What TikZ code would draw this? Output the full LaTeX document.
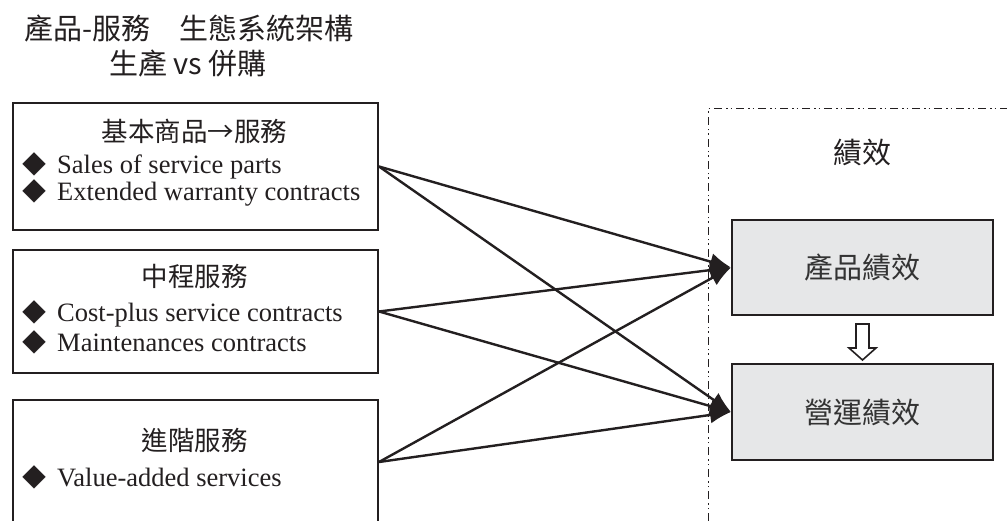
\documentclass[tikz,border=0pt]{standalone}
\usepackage{fontspec}
\setmainfont{Liberation Serif}
\newfontfamily\cjk{Noto Sans CJK TC}
\usetikzlibrary{arrows.meta,calc}
\definecolor{ink}{HTML}{231F20}
\definecolor{boxgray}{HTML}{E6E7E8}
\definecolor{txtgray}{HTML}{333333}
\begin{document}
\begin{tikzpicture}[x=1pt,y=-1pt,
  leftbox/.style={draw=ink,line width=2pt,minimum width=365pt,inner sep=0pt,anchor=north west},
  boxtitle/.style={font=\cjk\fontsize{26.5}{30}\selectfont,text=ink,anchor=base,inner sep=0pt},
  bullet/.style={font=\fontsize{26.5}{30}\selectfont,text=ink,anchor=base west,inner sep=0pt},
  bigtitle/.style={font=\cjk\fontsize{29}{33}\selectfont,text=ink,anchor=base,inner sep=0pt},
  graybox/.style={draw=ink,line width=2pt,fill=boxgray,minimum width=261pt,inner sep=0pt,
    font=\cjk\fontsize{29}{33}\selectfont,text=txtgray},
  frame/.style={draw=ink,line width=1pt,dash pattern=on 8pt off 4pt on 1.5pt off 3pt on 1.5pt off 4pt},
  conn/.style={draw=ink,line width=2.4pt,-{Latex[length=21pt,width=17pt]}},
  hollow/.style={draw=ink,line width=1.6pt,fill=white,line join=miter}
]
\clip (0,0) rectangle (1007,521);
\fill[white] (0,0) rectangle (1007,521);

% title
\node[bigtitle] (title1) at (189,39.5) {產品-服務　生態系統架構};
\node[bigtitle] (title2) at (188,74.5) {生產 vs 併購};

% left boxes
\node[leftbox,minimum height=127pt] (b1) at (12,102) {};
\node[leftbox,minimum height=123pt] (b2) at (12,249) {};
\node[leftbox,minimum height=124pt] (b3) at (12,399) {};

\newcommand{\dia}{\makebox[35pt][l]{\cjk\fontsize{24}{28}\selectfont ◆}}
\node[boxtitle] (t1) at (194.5,141.8) {基本商品→服務};
\node[bullet] (s1a) at (22,174) {\dia Sales of service parts};
\node[bullet] (s1b) at (22,201) {\dia Extended warranty contracts};

\node[boxtitle] (t2) at (194.5,286.8) {中程服務};
\node[bullet] (s2a) at (22,322) {\dia Cost-plus service contracts};
\node[bullet] (s2b) at (22,352) {\dia Maintenances contracts};

\node[boxtitle] (t3) at (194.5,450.8) {進階服務};
\node[bullet] (s3a) at (22,486) {\dia Value-added services};

% performance frame
\coordinate (fbl) at (708,521);
\coordinate (ftl) at (708,109);
\coordinate (ftr) at (1007,109);
\draw[frame] (fbl) -- (ftl) -- (ftr);
\node[bigtitle] (perf) at (862,163.5) {績效};

\node[graybox,minimum height=95pt] (p1) at (862.5,267.5) {產品績效};
\node[graybox,minimum height=96pt] (p2) at (862.5,412) {營運績效};

% hollow arrow
\coordinate (ha) at ($(p1.south)+(0,8)$);
\draw[hollow] ($(ha)+(-6.5,0)$) -- ++(13,0) -- ++(0,24) -- ++(7,0) -- ++(-13.5,12) -- ++(-13.5,-12) -- ++(7,0) -- cycle;

% connectors
\draw[conn] (b1.east) -- (p1.west);
\draw[conn] (b1.east) -- (p2.west);
\draw[conn] (b2.east) -- (p1.west);
\draw[conn] (b2.east) -- (p2.west);
\draw[conn] (b3.east) -- (p1.west);
\draw[conn] (b3.east) -- (p2.west);
\end{tikzpicture}
\end{document}
